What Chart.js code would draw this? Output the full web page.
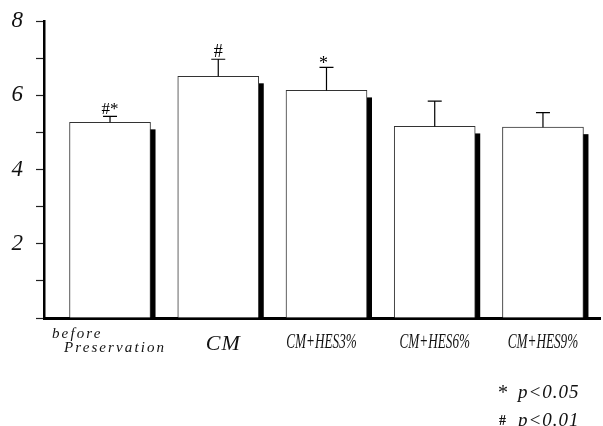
<!DOCTYPE html>
<html>
<head>
<meta charset="utf-8">
<script src="https://cdn.jsdelivr.net/npm/chart.js@4.4.1/dist/chart.umd.min.js"></script>
<style>
  html, body { margin: 0; padding: 0; background: #fff; }
</style>
</head>
<body>
<canvas id="chart" width="603" height="426"></canvas>
<script>
// values
const categories = [['before', 'Preservation'], ['CM'], ['CM+HES3%'], ['CM+HES6%'], ['CM+HES9%']];
const means = [5.27, 6.51, 6.13, 5.16, 5.14];
const errUp = [0.16, 0.46, 0.62, 0.68, 0.39];
const marks = ['#*', '#', '*', '', ''];
const yLabels = [2, 4, 6, 8];
const notes = [['*', 'p<0.05'], ['#', 'p<0.01']];

const SERIF = '"Liberation Serif", "DejaVu Serif", serif';

// black drop shadow behind each bar
const shadowPlugin = {
  id: 'shadow',
  beforeDatasetsDraw(chart) {
    const ctx = chart.ctx;
    const meta = chart.getDatasetMeta(0);
    ctx.save();
    ctx.fillStyle = '#000';
    meta.data.forEach(bar => {
      const w = bar.width;
      ctx.fillRect(bar.x - w / 2 + 5, bar.y + 7, w, bar.base - bar.y - 7);
    });
    ctx.restore();
  }
};

// upper error bars + significance marks
const errorPlugin = {
  id: 'errors',
  afterDatasetsDraw(chart) {
    const ctx = chart.ctx;
    const ys = chart.scales.y;
    const meta = chart.getDatasetMeta(0);
    const markSizes = [17, 18, 18];
    ctx.save();
    ctx.strokeStyle = '#000';
    ctx.lineWidth = 1.2;
    meta.data.forEach((bar, i) => {
      const top = ys.getPixelForValue(means[i] + errUp[i]);
      ctx.beginPath();
      ctx.moveTo(bar.x, bar.y);
      ctx.lineTo(bar.x, top);
      ctx.moveTo(bar.x - 7, top);
      ctx.lineTo(bar.x + 7, top);
      ctx.stroke();
      if (marks[i]) {
        ctx.fillStyle = '#000';
        ctx.font = markSizes[i] + 'px ' + SERIF;
        ctx.textAlign = 'center';
        ctx.textBaseline = 'alphabetic';
        ctx.fillText(marks[i], bar.x + (i === 2 ? -3 : 0), top + (marks[i] === '*' ? 2 : -2));
      }
    });
    ctx.restore();
  }
};

// category labels and p-value notes
const labelPlugin = {
  id: 'labels',
  afterDraw(chart) {
    const ctx = chart.ctx;
    const xs = chart.scales.x;
    ctx.save();
    ctx.fillStyle = '#111';
    ctx.textBaseline = 'alphabetic';
    categories.forEach((lines, i) => {
      const cx = xs.getPixelForValue(i);
      if (i === 0) {
        ctx.font = 'italic 15px ' + SERIF;
        ctx.letterSpacing = '2.1px';
        ctx.textAlign = 'left';
        ctx.fillText(lines[0], cx - 58, 338);
        ctx.fillText(lines[1], cx - 46, 352);
      } else if (i === 1) {
        ctx.font = 'italic 22px ' + SERIF;
        ctx.letterSpacing = '1px';
        ctx.textAlign = 'center';
        ctx.fillText(lines[0], cx + 5, 350);
      } else {
        ctx.letterSpacing = '0px';
        ctx.font = 'italic 20px ' + SERIF;
        ctx.textAlign = 'center';
        ctx.save();
        ctx.translate(cx + (i === 2 ? -5 : 0), 348);
        ctx.scale(0.66, 1);
        ctx.fillText(lines[0], 0, 0);
        ctx.restore();
      }
    });
    ctx.textAlign = 'left';
    notes.forEach((n, k) => {
      const base = 398 + k * 28;
      ctx.letterSpacing = '0px';
      if (n[0] === '*') {
        ctx.font = '20px ' + SERIF;
        ctx.fillText(n[0], 498, base + 1);
      } else {
        ctx.font = 'bold 14px ' + SERIF;
        ctx.fillText(n[0], 499, base - 1);
      }
      ctx.font = 'italic 19px ' + SERIF;
      ctx.letterSpacing = '1px';
      ctx.fillText(n[1], 518, base);
    });
    ctx.restore();
  }
};

new Chart(document.getElementById('chart'), {
  type: 'bar',
  data: {
    datasets: [{
      data: means.map((v, i) => ({ x: i, y: v })),
      backgroundColor: '#fff',
      borderColor: '#333',
      borderWidth: 1,
      barThickness: 81
    }]
  },
  options: {
    responsive: false,
    animation: false,
    devicePixelRatio: 1,
    layout: { padding: { top: 21, right: 3, left: 0, bottom: 0 } },
    plugins: { legend: { display: false }, tooltip: { enabled: false } },
    scales: {
      x: {
        type: 'linear',
        offset: false,
        min: -0.61,
        max: 4.527,
        afterFit(s) { s.height = 108; },
        ticks: { display: false },
        grid: { drawOnChartArea: false, drawTicks: false },
        border: { display: true, color: '#000', width: 3 }
      },
      y: {
        min: 0,
        max: 8,
        afterFit(s) { s.width = 44; s.paddingTop = 0; s.paddingBottom = 0; },
        ticks: {
          stepSize: 1,
          autoSkip: false,
          padding: 13,
          color: '#111',
          font: { family: SERIF, size: 23, style: 'italic' },
          callback: v => yLabels.includes(v) ? String(v) : ''
        },
        grid: { drawOnChartArea: false, drawTicks: true, tickLength: 8, tickColor: '#222', tickWidth: 1.2 },
        border: { display: true, color: '#000', width: 2.5 }
      }
    }
  },
  plugins: [shadowPlugin, errorPlugin, labelPlugin]
});
</script>
</body>
</html>
